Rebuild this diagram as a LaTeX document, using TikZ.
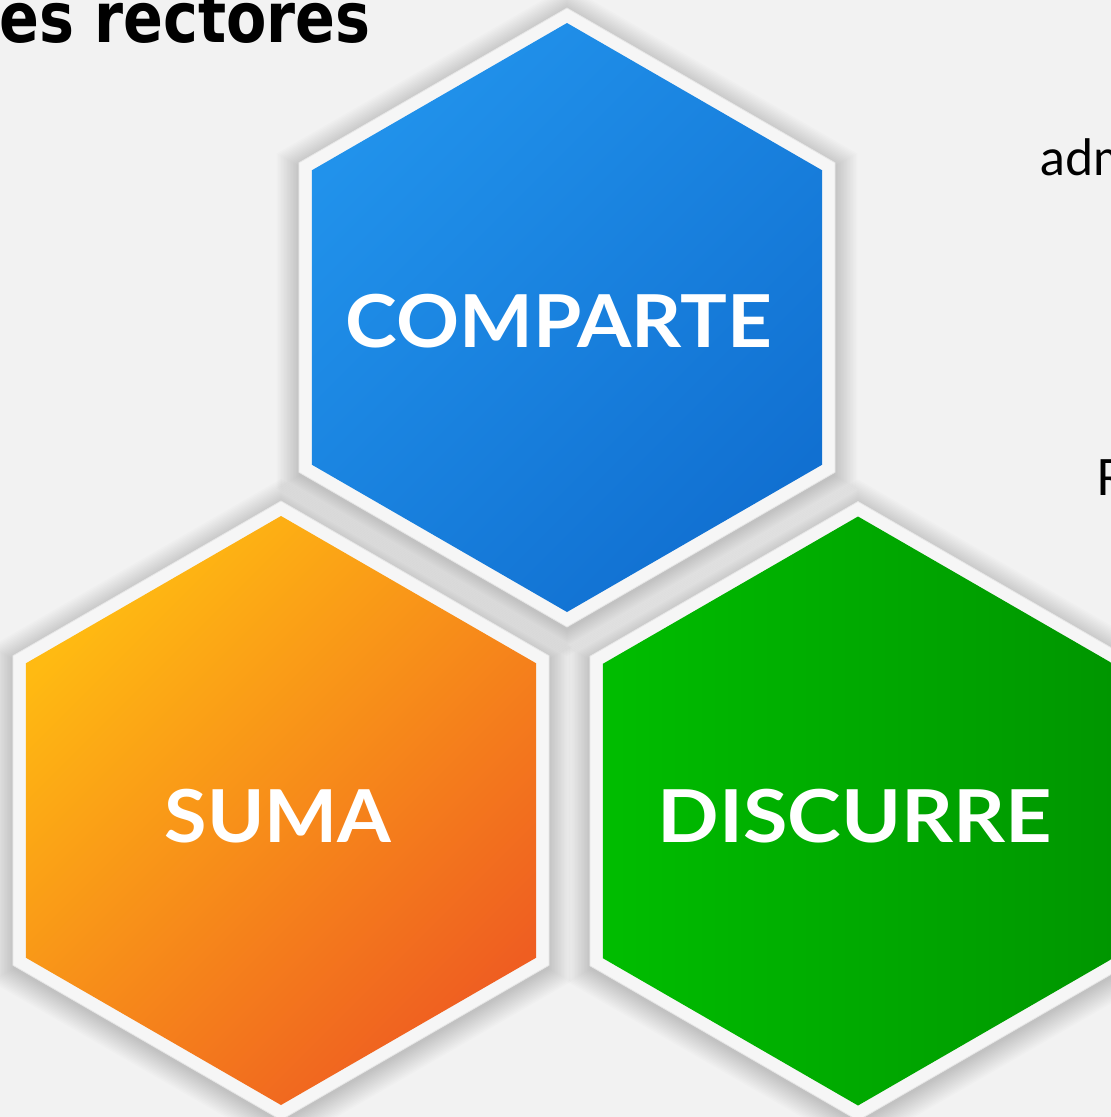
\documentclass[tikz,border=0pt]{standalone}
\usepackage{fontspec}
\setmainfont{Lato}
\newfontfamily\titlefont{DejaVu Sans}
\newfontfamily\labfont{Lato}
\definecolor{bg}{HTML}{F2F2F2}
\definecolor{ring}{HTML}{F6F6F6}
\definecolor{ringline}{HTML}{E6E6E6}
\definecolor{blueA}{HTML}{2192EB}
\definecolor{blueB}{HTML}{1170D1}
\definecolor{orA}{HTML}{FFBA12}
\definecolor{orB}{HTML}{EF5E21}
\definecolor{grA}{HTML}{00BD00}
\definecolor{grB}{HTML}{009600}
\newcommand\hexat[3]{\path[#3] (#1) +(90:#2) -- +(150:#2) -- +(210:#2) -- +(270:#2) -- +(330:#2) -- +(30:#2) -- cycle;}
\tikzset{
  hexlab/.style={text=white, inner sep=0pt, anchor=base, font=\labfont\bfseries\fontsize{73}{80}\selectfont},
  sidetext/.style={text=black, inner sep=0pt, anchor=base west, font=\labfont\fontsize{50}{56}\selectfont},
  titletext/.style={text=black, inner sep=0pt, anchor=base west, font=\titlefont\bfseries\fontsize{70}{76}\selectfont},
}
\begin{document}
\begin{tikzpicture}[x=1pt,y=-1pt]
\useasboundingbox (0,0) rectangle (1111,1117);
\clip (0,0) rectangle (1111,1117);
\fill[bg] (0,0) rectangle (1111,1117);
\coordinate (cb) at (567,317.5);
\coordinate (co) at (281,810.5);
\coordinate (cg) at (858,811);
\coordinate (cbs) at (567,321);
\coordinate (cos) at (281,814);
\coordinate (cgs) at (858,814.5);
% soft shadows
\foreach \i in {1,...,16}{
  \hexat{cbs}{308+1.7*\i}{fill=black, opacity=0.010}
  \hexat{cos}{308+1.7*\i}{fill=black, opacity=0.010}
  \hexat{cgs}{308+1.7*\i}{fill=black, opacity=0.010}
}
% rings
\hexat{cb}{309.5}{fill=ring, draw=ringline, line width=0.8pt}
\hexat{co}{309.5}{fill=ring, draw=ringline, line width=0.8pt}
\hexat{cg}{309.5}{fill=ring, draw=ringline, line width=0.8pt}
% coloured faces
\hexat{cb}{294.5}{top color=blueA, bottom color=blueB, shading angle=45}
\hexat{co}{294.5}{top color=orA, bottom color=orB, shading angle=45}
\hexat{cg}{294.5}{left color=grA, right color=grB}
% labels
\node[hexlab] (comparte) at (559,347) {\scalebox{1.07}[1]{COMPARTE}};
\node[hexlab] (suma) at (278,842) {\scalebox{1.06}[1]{SUMA}};
\node[hexlab] (discurre) at (855,842) {\scalebox{1.11}[1]{DISCURRE}};
\node[sidetext] (adm) at (1040,175) {adm};
\node[sidetext] (r) at (1096,495) {R};
\node[titletext] (title) at (-1,42) {\scalebox{0.84}[1]{es rectores}};
\end{tikzpicture}
\end{document}
